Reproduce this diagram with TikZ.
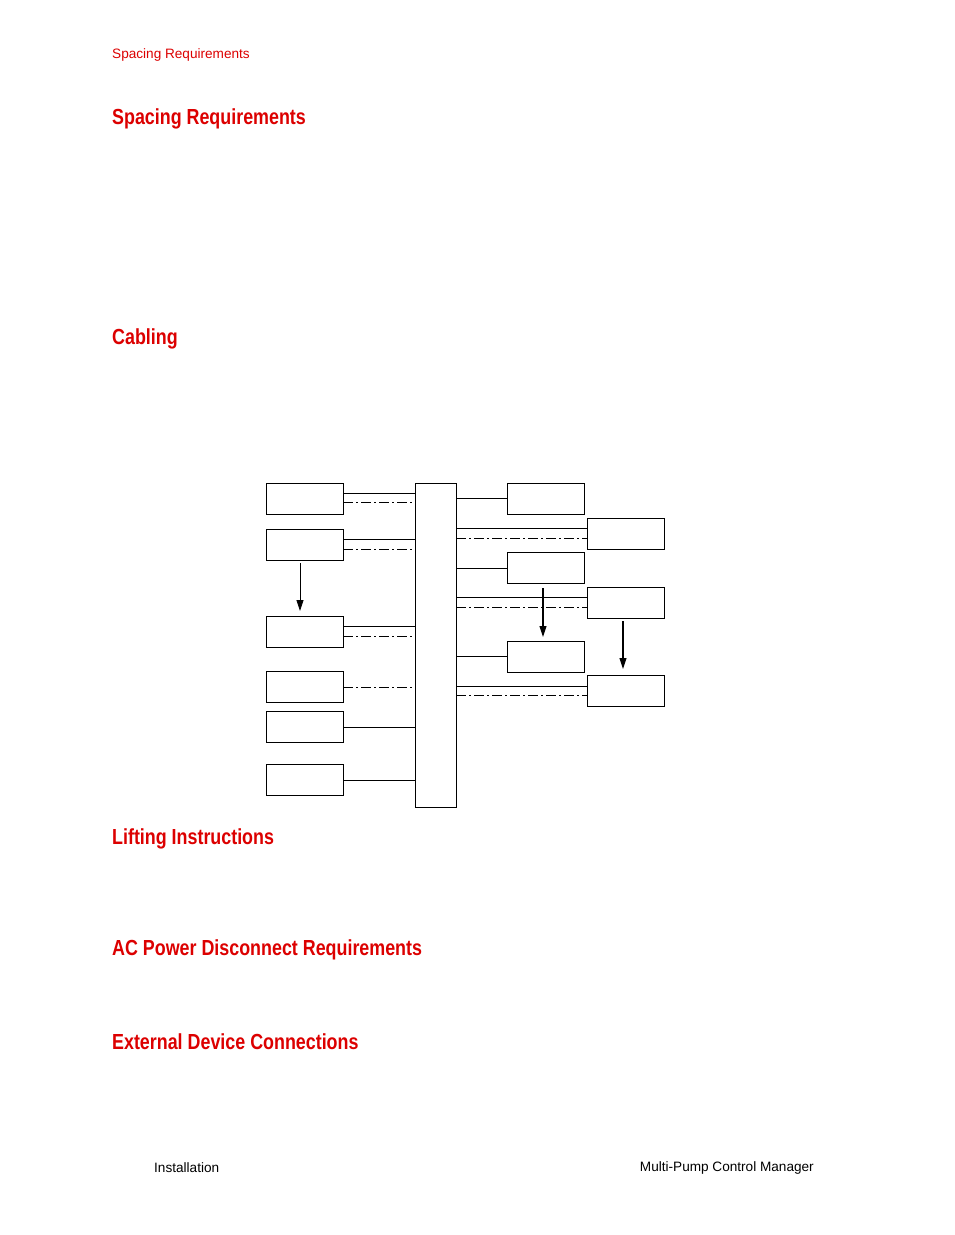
\documentclass[tikz,border=0pt]{standalone}
\usepackage{fontspec}
\setmainfont{Liberation Sans}
\usetikzlibrary{arrows.meta}
\definecolor{hred}{RGB}{220,0,0}
\begin{document}
\begin{tikzpicture}[x=1pt,y=-1pt,
  bx/.style={draw,line width=0.8pt,inner sep=0pt,anchor=north west},
  ln/.style={line width=0.7pt},
  dd/.style={line width=0.7pt,dash pattern=on 10pt off 3pt on 2pt off 3pt},
  arr/.style={line width=0.8pt,-{Triangle[length=11pt,width=7pt]}},
  head/.style={anchor=west,inner sep=0pt,text=hred,font=\bfseries\fontsize{21.8}{24}\selectfont,xscale=0.82,transform shape}]
\useasboundingbox (0,0) rectangle (954,1235);
\node[anchor=west,inner sep=0pt,text=hred,font=\fontsize{13.6}{15}\selectfont] (hdr) at (112,55) {Spacing Requirements};
\node[head] (h1) at (112,119) {Spacing Requirements};
\node[head] (h2) at (112,339) {Cabling};
\node[head] (h3) at (112,839) {Lifting Instructions};
\node[head] (h4) at (112,950) {AC Power Disconnect Requirements};
\node[head] (h5) at (112,1042) {External Device Connections};
\node[anchor=west,inner sep=0pt,font=\fontsize{13.6}{15}\selectfont] (f1) at (154,1168) {Installation};
\node[anchor=east,inner sep=0pt,font=\fontsize{13.6}{15}\selectfont] (f2) at (814,1168) {Multi-Pump Control Manager};
% center bar
\node[bx,minimum width=41pt,minimum height=324pt] (c) at (415,483) {};
% left boxes
\foreach \n/\y in {L1/483,L2/529,L3/616,L4/671,L5/711,L6/764}
  \node[bx,minimum width=77pt,minimum height=31pt] (\n) at (266,\y) {};
\foreach \y in {493,539,626,727,780} \draw[ln] (343,\y) -- (415,\y);
\foreach \y in {502,549,636,687} \draw[dd] (343,\y) -- (415,\y);
\coordinate (a1s) at (300,563); \coordinate (a1e) at (300,611);
\draw[arr] (a1s) -- (a1e);
% right boxes A
\foreach \n/\y in {A1/483,A2/552,A3/641}
  \node[bx,minimum width=77pt,minimum height=31pt] (\n) at (507,\y) {};
\foreach \y in {498,568,656} \draw[ln] (456,\y) -- (507,\y);
% right boxes B
\foreach \n/\y in {B1/518,B2/587,B3/675}
  \node[bx,minimum width=77pt,minimum height=31pt] (\n) at (587,\y) {};
\foreach \y in {528,597,686} \draw[ln] (456,\y) -- (587,\y);
\foreach \y in {538,607,695} \draw[dd] (456,\y) -- (587,\y);
\coordinate (a2s) at (543,588); \coordinate (a2e) at (543,637);
\draw[arr,line width=1.1pt] (a2s) -- (a2e);
\coordinate (a3s) at (623,621); \coordinate (a3e) at (623,669);
\draw[arr,line width=1.1pt] (a3s) -- (a3e);
\end{tikzpicture}
\end{document}
